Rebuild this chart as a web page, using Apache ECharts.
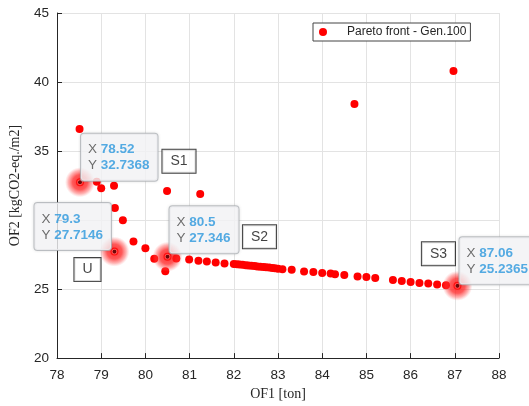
<!DOCTYPE html>
<html>
<head>
<meta charset="utf-8">
<script src="https://cdn.jsdelivr.net/npm/echarts@6/dist/echarts.min.js"></script>
<style>
html,body{margin:0;padding:0;background:#fff;}
#chart{width:529px;height:406px;}
</style>
</head>
<body>
<div id="chart"></div>
<script>
// ---- data ----
var seriesName = 'Pareto front - Gen.100';
var paretoX = [78.51, 78.52, 78.9, 79.0, 79.29, 80.49, 81.24, 86.97, 84.73,
  79.31, 79.49, 79.73, 79.3, 80.0, 80.2, 80.5, 80.45, 80.7, 80.99, 81.2, 81.39, 81.59, 81.79,
  82.0, 82.07, 82.13, 82.2, 82.27, 82.33, 82.4, 82.47, 82.53, 82.6, 82.67, 82.73, 82.8, 82.87, 82.93, 83.0,
  83.1, 83.31, 83.59, 83.8, 84.0, 84.19, 84.29, 84.5, 84.8, 85.0, 85.2, 85.6, 85.8, 86.0, 86.2, 86.4, 86.6, 86.8, 87.06];
var paretoY = [36.6, 32.7368, 32.77, 32.3, 32.49, 32.1, 31.89, 40.8, 38.41,
  30.87, 29.99, 28.45, 27.7146, 27.95, 27.19, 27.346, 26.3, 27.21, 27.14, 27.05, 27.0, 26.93, 26.86,
  26.82, 26.8, 26.78, 26.76, 26.73, 26.71, 26.69, 26.67, 26.64, 26.62, 26.6, 26.58, 26.56, 26.53, 26.51, 26.48,
  26.44, 26.4, 26.28, 26.23, 26.16, 26.12, 26.07, 26.02, 25.92, 25.87, 25.8, 25.66, 25.59, 25.52, 25.44, 25.4, 25.33, 25.28, 25.2365];
var pickNames = ['S1', 'U', 'S2', 'S3'];
var pickX = [78.52, 79.3, 80.5, 87.06];
var pickY = [32.7368, 27.7146, 27.346, 25.2365];
var xTicks = {min: 78, max: 88, step: 1};
var yTicks = {min: 20, max: 45, step: 5};
var yTicksCovered = ['30']; // tick labels hidden under the U data-tip box in the reference

// ---- styling (offsets of annotation boxes, px) ----
var tipOffsets = [[1, -25], [-80, -25], [2, -27], [2, -25]];
var tagOffsets = [[99, -21], [-27, 18], [92, -20], [-19, -32]];

var pareto = paretoX.map(function (x, i) { return [x, paretoY[i]]; });

var glow = {
  type: 'radial', x: 0.5, y: 0.5, r: 0.5,
  colorStops: [
    {offset: 0, color: '#4a0a0a'},
    {offset: 0.1, color: '#4a0a0a'},
    {offset: 0.15, color: 'rgba(255,110,110,0.95)'},
    {offset: 0.22, color: 'rgba(255,20,20,1)'},
    {offset: 0.5, color: 'rgba(255,25,25,0.9)'},
    {offset: 0.78, color: 'rgba(255,70,70,0.5)'},
    {offset: 1, color: 'rgba(255,120,120,0)'}
  ]
};

var tipData = pickX.map(function (x, i) {
  return {
    value: [x, pickY[i]],
    label: {offset: tipOffsets[i]}
  };
});
var tagData = pickX.map(function (x, i) {
  return {
    value: [x, pickY[i]],
    name: pickNames[i],
    label: {offset: tagOffsets[i]}
  };
});

var chart = echarts.init(document.getElementById('chart'), null, {renderer: 'canvas'});
var axisText = {color: '#262626', fontFamily: 'Liberation Sans, Arial, sans-serif', fontSize: 13.5};
chart.setOption({
  animation: false,
  backgroundColor: '#fff',
  grid: {left: 55, top: 13, width: 444, height: 349, containLabel: false},
  legend: {
    data: [seriesName],
    left: 313, top: 23,
    orient: 'horizontal',
    icon: 'circle',
    itemWidth: 38, itemHeight: 8,
    itemGap: 0,
    padding: [3, 4, 3, 6],
    borderColor: '#444', borderWidth: 1,
    backgroundColor: '#fff',
    textStyle: {color: '#262626', fontSize: 12, fontFamily: 'Liberation Sans, Arial, sans-serif'}
  },
  xAxis: {
    type: 'value', min: xTicks.min, max: xTicks.max, interval: xTicks.step,
    name: 'OF1 [ton]', nameLocation: 'middle', nameGap: 24,
    nameTextStyle: {color: '#262626', fontFamily: 'Liberation Serif, serif', fontSize: 14},
    axisLine: {show: true, onZero: false, lineStyle: {color: '#262626', width: 1}},
    axisTick: {show: true, inside: true, length: 5, lineStyle: {color: '#262626'}},
    axisLabel: Object.assign({margin: 10}, axisText),
    splitLine: {show: true, lineStyle: {color: '#e3e3e3', width: 1}}
  },
  yAxis: {
    type: 'value', min: yTicks.min, max: yTicks.max, interval: yTicks.step,
    name: 'OF2 [kgCO2-eq./m2]', nameLocation: 'middle', nameGap: 35,
    nameTextStyle: {color: '#262626', fontFamily: 'Liberation Serif, serif', fontSize: 14},
    axisLine: {show: true, onZero: false, lineStyle: {color: '#262626', width: 1}},
    axisTick: {show: true, inside: true, length: 5, lineStyle: {color: '#262626'}},
    axisLabel: Object.assign({margin: 8}, axisText, {
      color: function (v) { return yTicksCovered.indexOf(String(v)) >= 0 ? 'rgba(0,0,0,0)' : '#262626'; }
    }),
    splitLine: {show: true, lineStyle: {color: '#e3e3e3', width: 1}}
  },
  series: [
    {
      name: seriesName,
      type: 'scatter',
      data: pareto,
      symbol: 'circle',
      symbolSize: 8,
      itemStyle: {color: '#ff0000', opacity: 1},
      emphasis: {disabled: true},
      z: 2
    },
    {
      name: 'picks',
      type: 'scatter',
      data: tipData,
      symbol: 'circle',
      symbolSize: 30,
      itemStyle: {color: glow},
      emphasis: {disabled: true},
      zlevel: 1,
      z: 10,
      label: {
        show: true,
        position: 'inside',
        formatter: function (p) {
          return '{k|X }{v|' + p.value[0] + '}\n{k|Y }{v|' + p.value[1] + '}';
        },
        backgroundColor: '#f7f8fa',
        borderColor: '#b4b8bd', borderWidth: 1, borderRadius: 3,
        padding: [8, 8, 7, 7],
        lineHeight: 16,
        align: 'left', verticalAlign: 'middle',
        shadowColor: 'rgba(0,0,0,0.12)', shadowBlur: 3,
        rich: {
          k: {color: '#4a4a4a', fontSize: 13.5, fontFamily: 'Liberation Sans, Arial, sans-serif', lineHeight: 16},
          v: {color: '#2b97dd', fontSize: 13.5, fontWeight: 'bold', fontFamily: 'Liberation Sans, Arial, sans-serif', lineHeight: 16}
        }
      }
    },
    {
      name: 'tags',
      type: 'scatter',
      data: tagData,
      symbolSize: 0,
      itemStyle: {color: 'rgba(0,0,0,0)'},
      emphasis: {disabled: true},
      zlevel: 1,
      z: 11,
      label: {
        show: true,
        position: 'inside',
        formatter: '{b}',
        color: '#111',
        fontSize: 14,
        fontFamily: 'Liberation Sans, Arial, sans-serif',
        backgroundColor: '#fff',
        borderColor: '#111', borderWidth: 1,
        padding: [5, 8, 4, 8],
        align: 'center', verticalAlign: 'middle'
      }
    }
  ]
});
</script>
</body>
</html>
